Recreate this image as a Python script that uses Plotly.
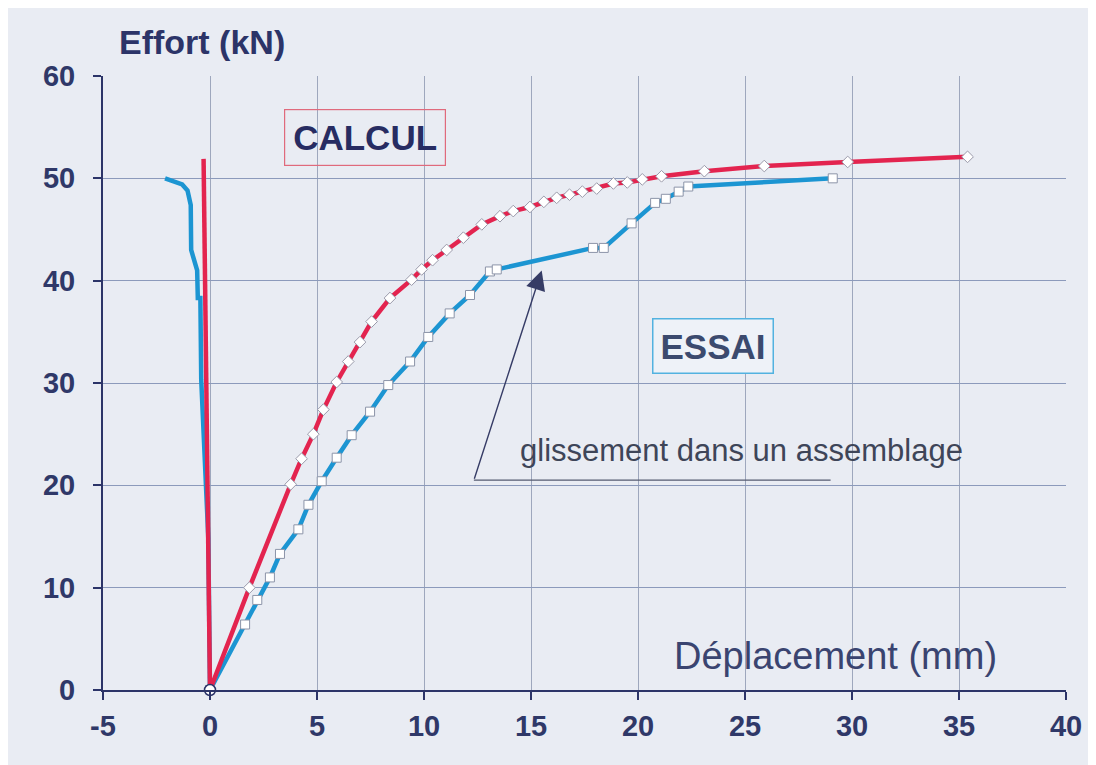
import plotly.graph_objects as go

# ---- data ----
calc_left_x = [-0.3, 0.0]
calc_left_y = [51.9, 0.0]

calc_x = [0.0, 1.84, 3.77, 4.28, 4.83, 5.30, 5.92, 6.46, 7.01, 7.55, 8.41, 9.42, 9.89,
          10.4, 11.06, 11.84, 12.7, 13.55, 14.17, 14.95, 15.6, 16.2, 16.8, 17.4, 18.07,
          18.85, 19.5, 20.2, 21.1, 23.1, 25.9, 29.8, 35.4]
calc_y = [0.0, 10.0, 20.1, 22.6, 25.0, 27.4, 30.1, 32.1, 34.0, 36.0, 38.3, 40.1, 41.1,
          42.0, 43.0, 44.2, 45.5, 46.3, 46.8, 47.2, 47.7, 48.1, 48.4, 48.7, 49.0,
          49.5, 49.6, 49.9, 50.2, 50.7, 51.2, 51.6, 52.1]

essai_left_x = [-2.1, -1.3, -1.05, -0.9, -0.88, -0.6, -0.57, -0.45, -0.41, -0.24, -0.08, 0.0]
essai_left_y = [50.0, 49.4, 48.8, 47.4, 43.0, 41.0, 38.3, 38.3, 30.3, 23.4, 14.9, 0.0]

essai_x = [0.0, 1.64, 2.21, 2.80, 3.27, 4.13, 4.60, 5.22, 5.92, 6.62, 7.48, 8.33, 9.35,
           10.2, 11.2, 12.15, 13.08, 13.4, 17.9, 18.4, 19.7, 20.8, 21.3, 21.9, 22.35, 29.1]
essai_y = [0.0, 6.4, 8.8, 11.0, 13.3, 15.7, 18.1, 20.4, 22.7, 24.9, 27.2, 29.8, 32.1,
           34.5, 36.8, 38.6, 40.9, 41.1, 43.2, 43.2, 45.6, 47.6, 48.0, 48.7, 49.2, 50.0]

origin_x = [0.0]
origin_y = [0.0]

x_ticks = [-5, 0, 5, 10, 15, 20, 25, 30, 35, 40]
y_ticks = [0, 10, 20, 30, 40, 50, 60]

label_calc = "CALCUL"
label_essai = "ESSAI"
label_slip = "glissement dans un assemblage"
x_title = "Déplacement (mm)"
y_title = "Effort (kN)"

# slip annotation geometry (data units)
slip_tip = (15.5, 41.0)
slip_tail = (12.33, 20.5)
slip_underline_end = 29.0

RED = "#e3244f"
BLUE = "#1c95d2"
NAVY = "#2c3468"
BG = "#e9ecf3"
FONT = "Liberation Sans, Arial, sans-serif"

fig = go.Figure()

fig.add_trace(go.Scatter(x=essai_left_x, y=essai_left_y, mode="lines",
                         line=dict(color=BLUE, width=4.5), hoverinfo="skip", showlegend=False))
fig.add_trace(go.Scatter(x=calc_left_x, y=calc_left_y, mode="lines",
                         line=dict(color=RED, width=4.5), hoverinfo="skip", showlegend=False))
fig.add_trace(go.Scatter(x=essai_x, y=essai_y, mode="lines+markers", name="ESSAI",
                         line=dict(color=BLUE, width=4.5),
                         marker=dict(symbol="square", size=9, color="white",
                                     line=dict(color="#8c94a8", width=1)),
                         showlegend=False))
fig.add_trace(go.Scatter(x=calc_x, y=calc_y, mode="lines+markers", name="CALCUL",
                         line=dict(color=RED, width=4.5),
                         marker=dict(symbol="diamond", size=9, color="white",
                                     line=dict(color="#9a9aaa", width=1)),
                         showlegend=False))
fig.add_trace(go.Scatter(x=origin_x, y=origin_y, mode="markers",
                         marker=dict(symbol="circle", size=11, color="white",
                                     line=dict(color=NAVY, width=1.5)),
                         hoverinfo="skip", showlegend=False, cliponaxis=False))

# underline of the slip label
fig.add_shape(type="line", xref="x", yref="y",
              x0=slip_tail[0], y0=slip_tail[1], x1=slip_underline_end, y1=slip_tail[1],
              line=dict(color="#555b70", width=1.2))

annotations = [
    dict(x=7.24, y=53.96, xref="x", yref="y", text="<b>" + label_calc + "</b>", showarrow=False,
         font=dict(family=FONT, size=35, color="#272c62"), bordercolor="#e06a7c",
         borderwidth=1.2, borderpad=8, bgcolor="rgba(0,0,0,0)"),
    dict(x=23.5, y=33.65, xref="x", yref="y", text="<b>" + label_essai + "</b>", showarrow=False,
         font=dict(family=FONT, size=35, color="#3b4a6e"), bordercolor="#52b2e0",
         borderwidth=1.5, borderpad=7, bgcolor="#eef2f8"),
    dict(x=24.84, y=23.4, xref="x", yref="y", text=label_slip, showarrow=False,
         font=dict(family=FONT, size=31, color="#3e4558")),
    dict(x=slip_tip[0], y=slip_tip[1], xref="x", yref="y", ax=slip_tail[0], ay=slip_tail[1],
         axref="x", ayref="y", text="", showarrow=True, arrowhead=2, arrowsize=2.8,
         arrowwidth=1.4, arrowcolor="#363c66"),
    dict(x=29.25, y=3.3, xref="x", yref="y", text=x_title, showarrow=False,
         font=dict(family=FONT, size=38, color="#3a4470")),
    dict(x=0.103, y=1.055, xref="paper", yref="paper", xanchor="center", yanchor="middle",
         text="<b>" + y_title + "</b>", showarrow=False,
         font=dict(family=FONT, size=34, color=NAVY)),
]
fig.update_layout(annotations=annotations)

fig.update_xaxes(range=[-5, 40], tickvals=x_ticks, ticktext=["<b>%d</b>" % v for v in x_ticks],
                 showgrid=True, gridcolor="#9ea7bd", gridwidth=1,
                 showline=True, linecolor=NAVY, linewidth=2,
                 ticks="outside", ticklen=8, tickwidth=2, tickcolor=NAVY,
                 tickfont=dict(family=FONT, size=29, color="#2f3868"),
                 ticklabelstandoff=1, zeroline=False, automargin=False)
fig.update_yaxes(range=[0, 60], tickvals=y_ticks, ticktext=["<b>%d</b>" % v for v in y_ticks],
                 showgrid=True, gridcolor="#8c9abb", gridwidth=1,
                 showline=True, linecolor=NAVY, linewidth=2,
                 ticks="outside", ticklen=8, tickwidth=2, tickcolor=NAVY,
                 tickfont=dict(family=FONT, size=29, color="#2f3868"),
                 ticklabelstandoff=12, zeroline=False, automargin=False)

# page body has an 8px margin -> shift plot area accordingly
fig.update_layout(width=1088, height=757,
                  margin=dict(l=95, r=30, t=68, b=75),
                  paper_bgcolor=BG, plot_bgcolor=BG, showlegend=False)

fig.write_html("out.html")
